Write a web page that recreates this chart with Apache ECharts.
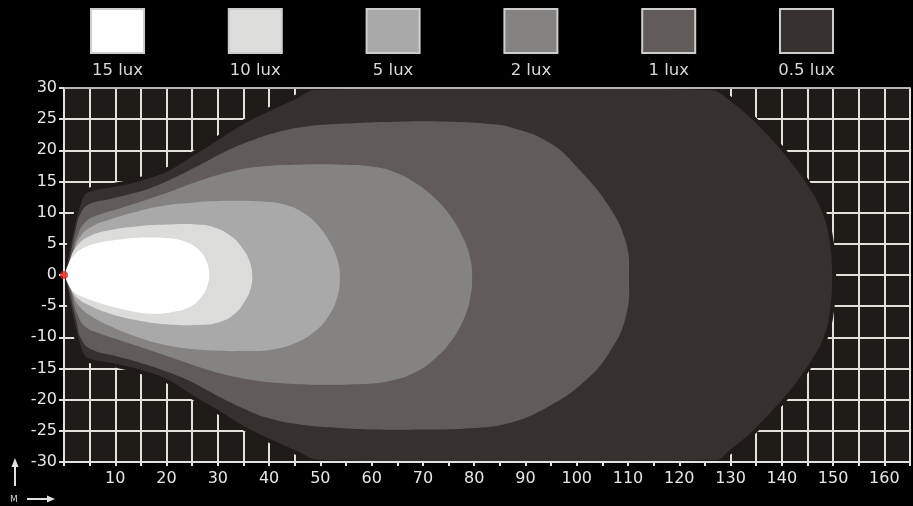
<!DOCTYPE html>
<html>
<head>
<meta charset="utf-8">
<script src="https://cdn.jsdelivr.net/npm/echarts@6/dist/echarts.min.js"></script>
<style>
html,body{margin:0;padding:0;background:#000;}
#chart{width:913px;height:506px;}
</style>
</head>
<body>
<div id="chart"></div>
<script>
// ---- data (metres: x = distance, y = lateral) ----
const legendLabels = ['15 lux', '10 lux', '5 lux', '2 lux', '1 lux', '0.5 lux'];
const luxColors = ['#ffffff', '#dcdcda', '#a9a9a9', '#858382', '#615c5a', '#36312e'];

const lux05 = [[0,0],[0.4,2.5],[1.1,5.5],[1.9,8.5],[2.8,11.2],[3.9,13.2],[6,13.9],[10,14.5],[13,15],[16,15.7],[20,16.9],[25,19.4],[30,22],[35,24.6],[40,26.6],[45,28.5],[49,30],[126,30],[130,28.3],[135,24.8],[140,20.4],[145,15],[148.3,10],[149.8,5],[150.2,0],[149.9,-5],[148.6,-10],[145.2,-15],[140.6,-20],[134.9,-25],[130,-28.4],[127,-30],[50,-30],[45,-28.4],[40,-26.6],[35,-24.6],[30,-22],[25,-19.6],[20,-17],[16,-15.8],[12,-14.9],[9,-14.4],[6,-14],[3.9,-13.3],[2.8,-11.2],[1.9,-8.5],[1.1,-5.5],[0.4,-2.5]];

const lux1 = [[0.5,0],[1.2,3],[2.2,7],[3.3,10],[5,11.4],[9,12.2],[13,13],[17,14],[21.5,15.6],[26.4,17.6],[31,19.6],[36,21.4],[41,22.8],[47,23.8],[55,24.3],[65,24.6],[75,24.6],[82,24.3],[87.6,23.6],[94.7,21.2],[100.5,16.9],[106.3,11],[109.6,5.2],[110.2,-0.3],[109.6,-6.6],[106.3,-12.5],[101.2,-17.3],[94.7,-21],[87,-23.7],[79.2,-24.6],[70,-24.8],[61,-24.8],[53,-24.5],[46,-24],[40,-23],[35,-21.4],[30,-19.4],[25,-17.2],[20,-15.5],[15,-14.1],[10,-13],[5.5,-12],[3.5,-10.5],[2.3,-7],[1.2,-3]];

const lux2 = [[0.8,0],[1.6,3.2],[2.7,6.5],[4.3,8.6],[7,9.7],[11,10.7],[15.5,11.9],[20.5,13.3],[26,15],[32,16.5],[38.5,17.4],[46,17.7],[54,17.7],[60,17.4],[64.5,16.5],[68.5,14.8],[72.5,12.2],[75.5,9.3],[77.8,6],[79.2,2.8],[79.6,-0.5],[79.2,-3.8],[78,-7],[75.5,-10.6],[72.5,-13.3],[68.5,-15.6],[63.5,-17],[58,-17.5],[50,-17.6],[43,-17.4],[37,-16.9],[31,-15.9],[25.5,-14.5],[20.5,-13.1],[15.5,-11.7],[11,-10.5],[7,-9.4],[4.3,-8.4],[2.7,-6.5],[1.6,-3.2]];

const lux5 = [[1,0],[1.9,3.8],[3.3,6.3],[5.7,7.9],[9,8.9],[13,9.9],[18.5,11],[25,11.6],[32,11.9],[38.5,11.8],[43,11.3],[46.8,9.9],[49.8,7.7],[52,5],[53.4,2.2],[53.8,-0.8],[53.2,-3.8],[51.6,-6.6],[49,-9],[45.5,-10.8],[41,-11.9],[35,-12.2],[29,-12.1],[24,-11.8],[18.5,-11],[13,-9.6],[9,-8.2],[5.7,-6.8],[3.3,-5.3],[1.9,-3.4]];

const lux10 = [[0.6,0],[1.2,2.5],[2.5,4.6],[5,6.2],[9,7.2],[14,7.8],[20,8.1],[26,8.1],[29.5,7.6],[32.5,6.3],[34.8,4.3],[36.2,2.2],[36.7,0],[36.4,-2.2],[35.2,-4.3],[33.3,-6.2],[30.5,-7.5],[27,-8],[20,-7.9],[14,-7.2],[9,-6.2],[5,-4.9],[2.5,-3.6],[1.2,-2]];

const lux15 = [[0.3,0],[0.9,1.8],[2,3.2],[4,4.4],[7,5.2],[11,5.7],[16,6],[20.5,5.9],[23.8,5.3],[26.2,4.1],[27.7,2.4],[28.3,0.4],[28,-1.6],[26.8,-3.5],[24.8,-5],[21.5,-5.9],[17,-6.2],[12,-5.6],[7,-4.5],[4,-3.6],[2,-2.8],[0.9,-1.6]];

const lampPosition = [[0, 0]];

const contours = [lux05, lux1, lux2, lux5, lux10, lux15]; // drawn outer -> inner
const contourColors = [luxColors[5], luxColors[4], luxColors[3], luxColors[2], luxColors[1], luxColors[0]];

const xMin = 0, xMax = 165, yMin = -30, yMax = 30, step = 5;

// ---- chart ----
const chart = echarts.init(document.getElementById('chart'), null, {renderer: 'canvas'});
const FONT = 'DejaVu Sans';
const plotBg = '#1f1b19';

function contourSeries(pts, color, isOuter) {
  return {
    type: 'custom',
    xAxisIndex: 0, yAxisIndex: 0,
    data: pts,
    encode: {x: 0, y: 1},
    clip: true,
    silent: true,
    renderItem: function (params, api) {
      if (params.dataIndex !== 0) return;
      const points = pts.map(function (p) { return api.coord(p); });
      return {
        type: 'polygon',
        shape: {points: points, smooth: 0.45},
        style: isOuter ? {fill: color, stroke: plotBg, lineWidth: 4} : {fill: color}
      };
    }
  };
}

const series = contours.map(function (c, i) { return contourSeries(c, contourColors[i], i === 0); });
series.push({
  type: 'scatter', xAxisIndex: 0, yAxisIndex: 0,
  data: lampPosition, symbolSize: 8, z: 20,
  itemStyle: {color: '#e8231f'}, silent: true
});

const graphics = [];
legendLabels.forEach(function (lab, i) {
  const x0 = 91 + i * 137.8;
  graphics.push({
    type: 'rect', shape: {x: x0, y: 9, width: 53, height: 44},
    style: {fill: luxColors[i], stroke: '#cdcdcd', lineWidth: 2}
  });
  graphics.push({
    type: 'text', x: x0 + 26.5, y: 71,
    style: {text: lab, fill: '#d9d9d9', font: '16.5px "' + FONT + '"', align: 'center', verticalAlign: 'middle'}
  });
});
// axis direction arrows + unit
graphics.push({type: 'line', shape: {x1: 15, y1: 486, x2: 15, y2: 466}, style: {stroke: '#e0e0e0', lineWidth: 2}});
graphics.push({type: 'polygon', shape: {points: [[11.5, 467], [18.5, 467], [15, 458]]}, style: {fill: '#e0e0e0'}});
graphics.push({type: 'line', shape: {x1: 27, y1: 499, x2: 48, y2: 499}, style: {stroke: '#e0e0e0', lineWidth: 2}});
graphics.push({type: 'polygon', shape: {points: [[47, 495.5], [47, 502.5], [55, 499]]}, style: {fill: '#e0e0e0'}});
graphics.push({type: 'text', x: 14, y: 500, style: {text: 'M', fill: '#d0d0d0', font: '9px "' + FONT + '"', align: 'center', verticalAlign: 'middle'}});

const gridLine = {show: true, lineStyle: {color: '#e4e0dc', width: 2}};
const axisCol = '#e2e2e2';

const option = {
  backgroundColor: '#000',
  animation: false,
  grid: {left: 64, top: 88, width: 853, height: 374, show: true, backgroundColor: plotBg, borderWidth: 0},
  xAxis: [
    {type: 'value', min: xMin, max: xMax, interval: step, position: 'bottom', z: 0,
      axisLine: {show: false}, axisTick: {show: false}, axisLabel: {show: false}, splitLine: gridLine},
    {type: 'value', min: xMin, max: xMax, interval: step, position: 'bottom', z: 10,
      axisLine: {show: true, onZero: false, lineStyle: {color: axisCol, width: 2}},
      axisTick: {show: true, length: 4, lineStyle: {color: axisCol, width: 2}},
      axisLabel: {show: true, margin: 9, color: '#e6e6e6', fontFamily: FONT, fontSize: 16,
        formatter: function (v) { return (v > 0 && v % 10 === 0) ? String(v) : ''; }},
      splitLine: {show: false}},
    {type: 'value', min: xMin, max: xMax, interval: step, position: 'top', z: 10,
      axisLine: {show: true, onZero: false, lineStyle: {color: '#b8b6b4', width: 2}},
      axisTick: {show: false}, axisLabel: {show: false}, splitLine: {show: false}}
  ],
  yAxis: [
    {type: 'value', min: yMin, max: yMax, interval: step, position: 'left', z: 0,
      axisLine: {show: false}, axisTick: {show: false}, axisLabel: {show: false}, splitLine: gridLine},
    {type: 'value', min: yMin, max: yMax, interval: step, position: 'left', z: 10,
      axisLine: {show: true, onZero: false, lineStyle: {color: axisCol, width: 2}},
      axisTick: {show: true, length: 5, lineStyle: {color: axisCol, width: 2}},
      axisLabel: {show: true, margin: 7, color: '#e6e6e6', fontFamily: FONT, fontSize: 16},
      splitLine: {show: false}}
  ],
  graphic: {elements: graphics},
  series: series
};
chart.setOption(option);
</script>
</body>
</html>
